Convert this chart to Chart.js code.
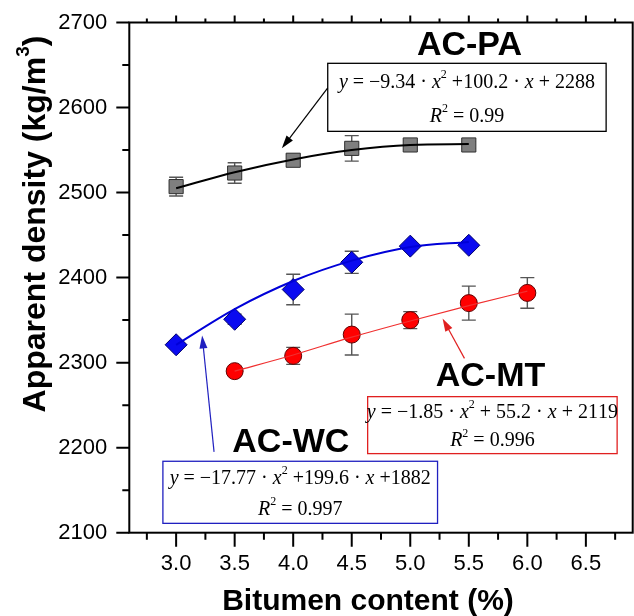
<!DOCTYPE html>
<html>
<head>
<meta charset="utf-8">
<script src="https://cdn.jsdelivr.net/npm/chart.js@4.4.0/dist/chart.umd.min.js"></script>
<style>
  html, body { margin: 0; padding: 0; background: #fff; }
  #wrap { width: 634px; height: 616px; }
</style>
</head>
<body>
<div id="wrap"><canvas id="densityChart" width="634" height="616"></canvas></div>
<script>
// bitumen content (%) of each mix
const bitumenPA = [3.0, 3.5, 4.0, 4.5, 5.0, 5.5];
const bitumenWC = [3.0, 3.5, 4.0, 4.5, 5.0, 5.5];
const bitumenMT = [3.5, 4.0, 4.5, 5.0, 5.5, 6.0];

// measured apparent density (kg/m3) + error bar half size
const densityPA = [2507, 2523, 2538, 2552, 2556, 2556];
const errorPA = [11, 12, 7, 15, 5, 4];
const densityWC = [2321, 2351, 2386, 2418, 2437, 2438];
const errorWC = [3, 6, 18, 13, 3, 3];
const densityMT = [2290, 2308, 2333, 2350, 2370, 2382];
const errorMT = [3, 10, 24, 10, 20, 18];

// regression curves as they are drawn
const fitPA = [2505, 2524, 2539, 2550, 2556, 2557];
const fitWC = [2321, 2363, 2396, 2420, 2436, 2442];
const fitMT = [2290, 2309, 2330, 2349, 2367, 2384];

// tick labels
const xTicks = [3.0, 3.5, 4.0, 4.5, 5.0, 5.5, 6.0, 6.5];
const yTicks = [2100, 2200, 2300, 2400, 2500, 2600, 2700];

// equations in the boxes
const eqPA = ['y = −9.34 · x² +100.2 · x + 2288', 'R² = 0.99'];
const eqMT = ['y = −1.85 · x² + 55.2 · x + 2119', 'R² = 0.996'];
const eqWC = ['y = −17.77 · x² +199.6 · x +1882', 'R² = 0.997'];

const SANS = 'Arial, "Liberation Sans", sans-serif';
const SERIF = '"Times New Roman", "Liberation Serif", serif';

// annotation layout, in data units
const boxes = [
  { x0: 4.295, x1: 6.673, y0: 2652, y1: 2572, color: '#000000', lines: eqPA },
  { x0: 4.636, x1: 6.767, y0: 2260, y1: 2193, color: '#e02020', lines: eqMT },
  { x0: 2.887, x1: 5.233, y0: 2184, y1: 2111, color: '#2020c0', lines: eqWC }
];
const labels = [
  { text: 'AC-PA', x: 5.506, y: 2673 },
  { text: 'AC-MT', x: 5.685, y: 2284 },
  { text: 'AC-WC', x: 3.98, y: 2206 }
];
const arrows = [
  { from: [4.295, 2623], to: [3.903, 2552], color: '#000000' },
  { from: [5.463, 2305], to: [5.276, 2352], color: '#e02020' },
  { from: [3.324, 2195], to: [3.222, 2332], color: '#2020c0' }
];

const toPoints = (xs, ys) => xs.map((x, i) => ({ x: x, y: ys[i] }));

// draws text where x, y, R are italic and ² is a superscript
const drawRich = (ctx, str, cx, cy, size) => {
  const parts = [];
  for (const ch of str) {
    if (ch === '²') parts.push({ t: '2', sup: true });
    else if ('xyR'.includes(ch)) parts.push({ t: ch, it: true });
    else parts.push({ t: ch });
  }
  const fontOf = p => (p.it ? 'italic ' : '') + (p.sup ? Math.round(size * 0.6) : size) + 'px ' + SERIF;
  let total = 0;
  parts.forEach(p => { ctx.font = fontOf(p); p.w = ctx.measureText(p.t).width; total += p.w; });
  let x = cx - total / 2;
  ctx.textAlign = 'left';
  ctx.textBaseline = 'middle';
  parts.forEach(p => {
    ctx.font = fontOf(p);
    ctx.fillText(p.t, x, p.sup ? cy - size * 0.38 : cy);
    x += p.w;
  });
};

const drawArrow = (ctx, x0, y0, x1, y1, color) => {
  const ang = Math.atan2(y1 - y0, x1 - x0);
  const len = 13, half = 4;
  ctx.strokeStyle = color;
  ctx.fillStyle = color;
  ctx.lineWidth = 1.2;
  ctx.beginPath();
  ctx.moveTo(x0, y0);
  ctx.lineTo(x1 - Math.cos(ang) * len * 0.8, y1 - Math.sin(ang) * len * 0.8);
  ctx.stroke();
  ctx.beginPath();
  ctx.moveTo(x1, y1);
  ctx.lineTo(x1 - Math.cos(ang) * len + Math.sin(ang) * half, y1 - Math.sin(ang) * len - Math.cos(ang) * half);
  ctx.lineTo(x1 - Math.cos(ang) * len - Math.sin(ang) * half, y1 - Math.sin(ang) * len + Math.cos(ang) * half);
  ctx.closePath();
  ctx.fill();
};

const errorBars = {
  id: 'errorBars',
  beforeDatasetsDraw(chart) {
    const ctx = chart.ctx;
    const { x: xs, y: ys } = chart.scales;
    ctx.save();
    ctx.strokeStyle = '#555555';
    ctx.lineWidth = 1.4;
    chart.data.datasets.forEach(ds => {
      if (!ds.errors) return;
      ds.data.forEach((p, i) => {
        const e = ds.errors[i];
        const px = xs.getPixelForValue(p.x);
        const top = ys.getPixelForValue(p.y + e);
        const bot = ys.getPixelForValue(p.y - e);
        ctx.beginPath();
        ctx.moveTo(px, top); ctx.lineTo(px, bot);
        ctx.moveTo(px - 7, top); ctx.lineTo(px + 7, top);
        ctx.moveTo(px - 7, bot); ctx.lineTo(px + 7, bot);
        ctx.stroke();
      });
    });
    ctx.restore();
  }
};

const frameAndNotes = {
  id: 'frameAndNotes',
  afterDraw(chart) {
    const ctx = chart.ctx;
    const { left, right, top, bottom } = chart.chartArea;
    const xs = chart.scales.x, ys = chart.scales.y;
    ctx.save();

    // frame + tick marks (outward, major and minor)
    ctx.strokeStyle = '#000';
    ctx.lineWidth = 2;
    ctx.strokeRect(left, top, right - left, bottom - top);
    ctx.beginPath();
    for (let v = 2.75; v <= 6.9; v += 0.25) {
      const major = Math.abs(v * 2 - Math.round(v * 2)) < 1e-6;
      const px = xs.getPixelForValue(v);
      ctx.moveTo(px, bottom); ctx.lineTo(px, bottom + (major ? 14 : 7));
      ctx.moveTo(px, top); ctx.lineTo(px, top - (major ? 7 : 4));
    }
    for (let v = 2100; v <= 2700; v += 50) {
      const major = v % 100 === 0;
      const py = ys.getPixelForValue(v);
      ctx.moveTo(left, py); ctx.lineTo(left - (major ? 13 : 7), py);
    }
    ctx.stroke();

    // axis titles
    ctx.fillStyle = '#000';
    ctx.font = 'bold 30px ' + SANS;
    ctx.textAlign = 'center';
    ctx.textBaseline = 'middle';
    ctx.fillText('Bitumen content (%)', 368, 602);
    ctx.save();
    ctx.translate(36, 224);
    ctx.rotate(-Math.PI / 2);
    const t1 = 'Apparent density (kg/m';
    ctx.font = 'bold 32px ' + SANS;
    const w1 = ctx.measureText(t1).width;
    ctx.font = 'bold 19px ' + SANS;
    const w2 = ctx.measureText('3').width;
    ctx.font = 'bold 32px ' + SANS;
    const w3 = ctx.measureText(')').width;
    let sx = -(w1 + w2 + w3) / 2;
    ctx.textAlign = 'left';
    ctx.fillText(t1, sx, 0);
    ctx.font = 'bold 19px ' + SANS;
    ctx.fillText('3', sx + w1, -12);
    ctx.font = 'bold 32px ' + SANS;
    ctx.fillText(')', sx + w1 + w2, 0);
    ctx.restore();

    // series labels
    ctx.font = 'bold 34px ' + SANS;
    ctx.textAlign = 'center';
    ctx.textBaseline = 'middle';
    labels.forEach(l => ctx.fillText(l.text, xs.getPixelForValue(l.x), ys.getPixelForValue(l.y)));

    // equation boxes
    boxes.forEach(b => {
      const x0 = xs.getPixelForValue(b.x0), x1 = xs.getPixelForValue(b.x1);
      const y0 = ys.getPixelForValue(b.y0), y1 = ys.getPixelForValue(b.y1);
      ctx.fillStyle = '#fff';
      ctx.fillRect(x0, y0, x1 - x0, y1 - y0);
      ctx.strokeStyle = b.color;
      ctx.lineWidth = 1.3;
      ctx.strokeRect(x0, y0, x1 - x0, y1 - y0);
      ctx.fillStyle = '#000';
      const h = y1 - y0;
      drawRich(ctx, b.lines[0], (x0 + x1) / 2, y0 + h * 0.28, 20);
      drawRich(ctx, b.lines[1], (x0 + x1) / 2, y0 + h * 0.78, 20);
    });

    // arrows
    arrows.forEach(a => {
      drawArrow(ctx,
        xs.getPixelForValue(a.from[0]), ys.getPixelForValue(a.from[1]),
        xs.getPixelForValue(a.to[0]), ys.getPixelForValue(a.to[1]), a.color);
    });
    ctx.restore();
  }
};

Chart.defaults.font.family = SANS;
Chart.defaults.color = '#000';

const ctx = document.getElementById('densityChart');
const densityChart = new Chart(ctx, {
  type: 'scatter',
  data: {
    datasets: [
      { label: 'AC-PA fit', data: toPoints(bitumenPA, fitPA), showLine: true, borderColor: '#000000',
        borderWidth: 2, pointRadius: 0, cubicInterpolationMode: 'monotone', order: 0 },
      { label: 'AC-WC fit', data: toPoints(bitumenWC, fitWC), showLine: true, borderColor: '#0000d8',
        borderWidth: 2, pointRadius: 0, cubicInterpolationMode: 'monotone', order: 0 },
      { label: 'AC-MT fit', data: toPoints(bitumenMT, fitMT), showLine: true, borderColor: '#f03030',
        borderWidth: 1.2, pointRadius: 0, cubicInterpolationMode: 'monotone', order: 0 },
      { label: 'AC-PA', data: toPoints(bitumenPA, densityPA), errors: errorPA, pointStyle: 'rect',
        pointRadius: 10, backgroundColor: '#7f7f7f', borderColor: '#303030', borderWidth: 1, order: 1 },
      { label: 'AC-WC', data: toPoints(bitumenWC, densityWC), errors: errorWC, pointStyle: 'rectRot',
        pointRadius: 11, backgroundColor: '#0a0af0', borderColor: '#00006a', borderWidth: 1, order: 1 },
      { label: 'AC-MT', data: toPoints(bitumenMT, densityMT), errors: errorMT, pointStyle: 'circle',
        pointRadius: 8.5, backgroundColor: '#ff0000', borderColor: '#600000', borderWidth: 1, order: 1 }
    ]
  },
  options: {
    responsive: false,
    animation: false,
    layout: { autoPadding: false, padding: { top: 22.5, right: 1.3, left: 0, bottom: 0 } },
    plugins: { legend: { display: false }, tooltip: { enabled: false } },
    scales: {
      x: {
        type: 'linear', min: 2.6, max: 6.9,
        grid: { display: false, drawTicks: false },
        border: { display: false },
        ticks: { font: { size: 22 }, padding: 18, maxRotation: 0, callback: v => v.toFixed(1) },
        afterBuildTicks: s => { s.ticks = xTicks.map(v => ({ value: v })); },
        afterFit: s => { s.height = 83.3; s.paddingLeft = 0; s.paddingRight = 0; }
      },
      y: {
        type: 'linear', min: 2100, max: 2700,
        grid: { display: false, drawTicks: false },
        border: { display: false },
        ticks: { font: { size: 22 }, padding: 22, callback: v => String(v) },
        afterBuildTicks: s => { s.ticks = yTicks.map(v => ({ value: v })); },
        afterFit: s => { s.width = 129.3; s.paddingTop = 0; s.paddingBottom = 0; }
      }
    }
  },
  plugins: [errorBars, frameAndNotes]
});
</script>
</body>
</html>
